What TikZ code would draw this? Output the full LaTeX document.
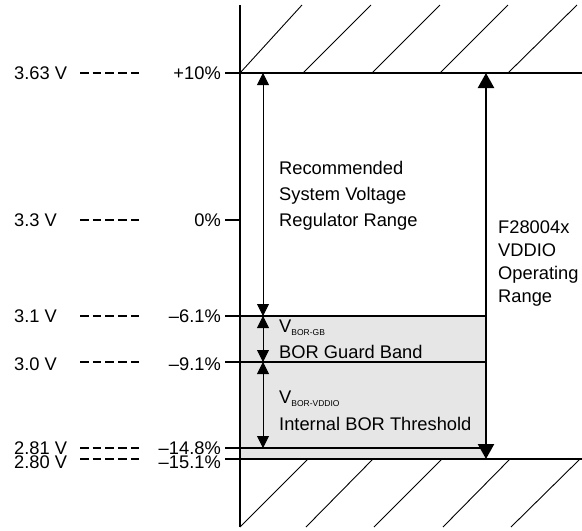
\documentclass[tikz,border=0pt]{standalone}
\usepackage{fontspec}
\setmainfont{Liberation Sans}
\usetikzlibrary{arrows.meta}
\definecolor{boxgray}{RGB}{230,230,230}
\newcommand\vsubtxt[1]{\raisebox{-3pt}{\fontsize{8.5}{10}\selectfont #1}}
\begin{document}
\begin{tikzpicture}[x=1pt,y=-1pt,
  lbl/.style={inner sep=0pt, font=\fontsize{18.3}{23}\selectfont},
  blk/.style={lbl, align=left, anchor=base west},
  dashline/.style={line width=1.1pt, dash pattern=on 8.5pt off 4.2pt},
  level/.style={line width=1.2pt},
  hatch/.style={line width=0.9pt},
  axisline/.style={line width=2.6pt},
  thinarrow/.style={line width=0.9pt, {Triangle[width=12pt,length=12pt]}-{Triangle[width=12pt,length=12pt]}},
  thickarrow/.style={line width=2.4pt, {Triangle[width=16pt,length=15pt]}-{Triangle[width=16pt,length=15pt]}}
]
\useasboundingbox (0,0) rectangle (582,531);
% gray band
\fill[boxgray] (240,316) rectangle (486,459);
% hatching
\foreach \a/\b in {240/302,303/371,372/440,440/508,508/577}
  \draw[hatch] (\a,73) -- (\b,5);
\foreach \a/\b in {308/240,373/306,442/374,510/443,580/511}
  \draw[hatch] (\a,459) -- (\b,527);
% level coordinates
\coordinate (L1a) at (225,73);  \coordinate (L1b) at (582,73);
\coordinate (L2a) at (225,220); \coordinate (L2b) at (240,220);
\coordinate (L3a) at (225,316); \coordinate (L3b) at (486,316);
\coordinate (L4a) at (225,362); \coordinate (L4b) at (486,362);
\coordinate (L5a) at (225,448); \coordinate (L5b) at (486,448);
\coordinate (L6a) at (225,459); \coordinate (L6b) at (582,459);
\foreach \i in {1,...,6} \draw[level] (L\i a) -- (L\i b);
% axis
\coordinate (axtop) at (240,5); \coordinate (axbot) at (240,527);
\draw[axisline] (axtop) -- (axbot);
% left labels, dashes, percentages
\foreach \y/\b/\v/\p/\n in {73/79.5/3.63 V/+10\%/a, 220/226.5/3.3 V/0\%/b, 316/322.5/3.1 V/–6.1\%/c,
    362/370/3.0 V/–9.1\%/d, 448/454/2.81 V/–14.8\%/e, 459/468/2.80 V/–15.1\%/f}{
  \node[lbl, anchor=base west] (volt\n) at (14,\b) {\v};
  \coordinate (dA\n) at (80,\y); \coordinate (dB\n) at (143,\y);
  \draw[dashline] (dA\n) -- (dB\n);
  \node[lbl, anchor=base east] (pct\n) at (221,\b) {\p};
}
% range arrows
\coordinate (r1) at (263,73);  \coordinate (r2) at (263,316);
\coordinate (r3) at (263,362); \coordinate (r4) at (263,448);
\draw[thinarrow] (r1) -- (r2);
\draw[thinarrow] (r2) -- (r3);
\draw[thinarrow] (r3) -- (r4);
\coordinate (f1) at (486,73); \coordinate (f2) at (486,459);
\draw[thickarrow] (f1) -- (f2);
% texts (base anchor = last line)
\node[blk, font=\fontsize{18.3}{26}\selectfont] (rec) at (279,226) {Recommended\\System Voltage\\Regulator Range};
\node[blk] (vgb) at (279,332) {V\vsubtxt{BOR-GB}};
\node[blk] (gb) at (279,358) {BOR Guard Band};
\node[blk] (vvd) at (279,403) {V\vsubtxt{BOR-VDDIO}};
\node[blk] (thr) at (279,430) {Internal BOR Threshold};
\node[blk] (f28) at (498,302) {F28004x\\VDDIO\\Operating\\Range};
\end{tikzpicture}
\end{document}
